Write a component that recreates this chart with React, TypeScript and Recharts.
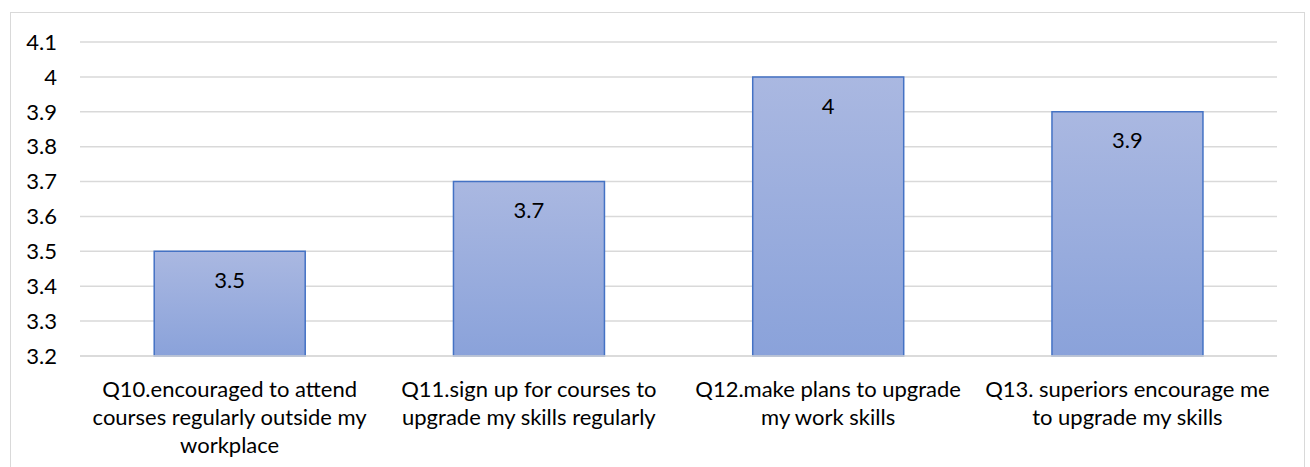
import React from "react";
import { BarChart, Bar, XAxis, YAxis, CartesianGrid, LabelList } from "recharts";

const categories = [
  "Q10.encouraged to attend\ncourses regularly outside my\nworkplace",
  "Q11.sign up for courses to\nupgrade my skills regularly",
  "Q12.make plans to upgrade\nmy work skills",
  "Q13. superiors encourage me\nto upgrade my skills",
];
const values = [3.5, 3.7, 4, 3.9];
const yTicks = [3.2, 3.3, 3.4, 3.5, 3.6, 3.7, 3.8, 3.9, 4, 4.1];

const data = categories.map((c, i) => ({ name: c, value: values[i] }));

const FONT = "Lato, 'Open Sans', sans-serif";
const FS = 22;

const CategoryTick = (props: any) => {
  const { x, y, payload } = props;
  const lines = String(payload.value).split("\n");
  return (
    <text x={x} y={y} textAnchor="middle" fill="#000" fontFamily={FONT} fontSize={FS}>
      {lines.map((l, i) => (
        <tspan key={i} x={x} y={y + 41 + i * 28}>
          {l}
        </tspan>
      ))}
    </text>
  );
};

export default function App() {
  return (
    <div style={{ position: "absolute", left: 0, top: 0, width: 1310, height: 467, background: "#fff" }}>
      <div
        style={{
          position: "absolute",
          left: 10,
          top: 12,
          width: 1295,
          height: 470,
          border: "1px solid #d9d9d9",
          boxSizing: "border-box",
        }}
      />
      <div style={{ position: "absolute", left: 0, top: 0 }}>
        <BarChart
          width={1310}
          height={467}
          data={data}
          margin={{ top: 42, right: 33, bottom: 11, left: 10 }}
          barCategoryGap="24.8%"
        >
          <defs>
            <linearGradient id="barGrad" x1="0" y1="0" x2="0" y2="1">
              <stop offset="0%" stopColor="#aab8e1" />
              <stop offset="100%" stopColor="#8aa2da" />
            </linearGradient>
          </defs>
          <CartesianGrid vertical={false} stroke="#d9d9d9" strokeWidth={1.5} />
          <XAxis
            dataKey="name"
            interval={0}
            height={100}
            tickLine={false}
            axisLine={{ stroke: "#d9d9d9", strokeWidth: 1.5 }}
            tickSize={0}
            tickMargin={0}
            tick={<CategoryTick />}
          />
          <YAxis
            domain={[3.2, 4.1]}
            ticks={yTicks}
            interval={0}
            width={70}
            tickLine={false}
            axisLine={false}
            tickSize={0}
            tickMargin={23}
            tick={{ fill: "#000", fontFamily: FONT, fontSize: FS }}
          />
          <Bar
            dataKey="value"
            fill="url(#barGrad)"
            stroke="#4472c4"
            strokeWidth={1.5}
            isAnimationActive={false}
          >
            <LabelList
              dataKey="value"
              position="insideTop"
              offset={21}
              fill="#000"
              fontFamily={FONT}
              fontSize={FS}
            />
          </Bar>
        </BarChart>
      </div>
    </div>
  );
}
